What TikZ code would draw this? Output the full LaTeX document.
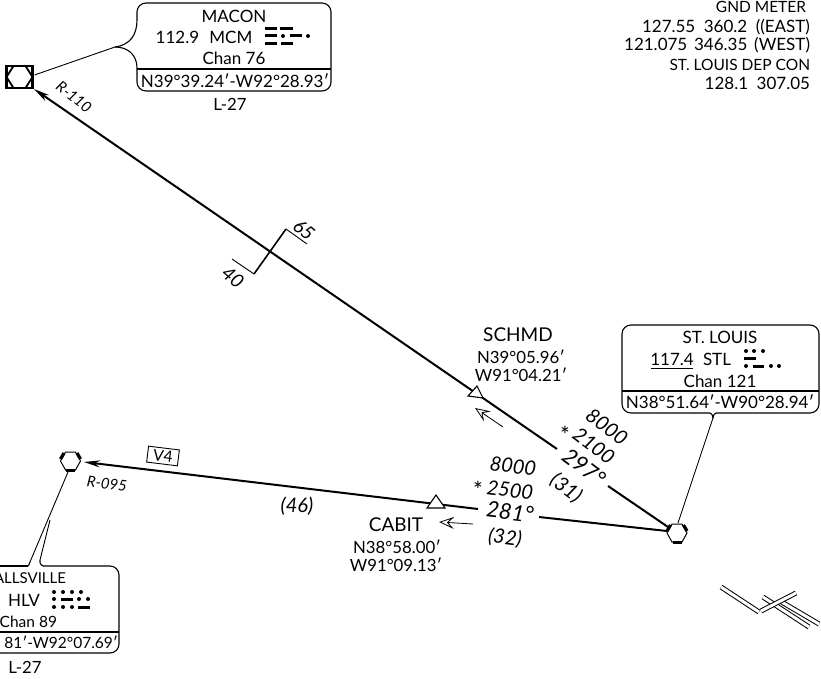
\documentclass[tikz,border=0pt]{standalone}
\usepackage{fontspec}
\setmainfont{Lato}
\usetikzlibrary{arrows.meta}
\tikzset{
  lbl/.style={inner sep=0pt,outer sep=0pt,text=black,font=\fontsize{17}{17}\selectfont},
  lblnarrow/.style={lbl,font=\fontsize{15.5}{16}\selectfont},
  lblclip/.style={lbl,font=\fontsize{15}{15}\selectfont},
  lblsm/.style={lbl,font=\fontsize{16.8}{17}\selectfont},
  lblbig/.style={lbl,font=\fontsize{19}{19}\selectfont},
  alt/.style={lbl,font=\fontsize{20}{20}\selectfont\itshape},
  crs/.style={lbl,font=\fontsize{22}{22}\selectfont\itshape},
  dist/.style={lbl,font=\fontsize{20}{20}\selectfont\itshape},
  rad/.style={lbl,font=\fontsize{15}{15}\selectfont\itshape},
  mea/.style={lbl,font=\fontsize{19}{19}\selectfont\itshape},
  star/.style={lbl,font=\fontsize{23}{23}\selectfont},
  airway/.style={line width=2pt,black},
  inbound/.style={airway,-{Stealth[length=16pt,width=7pt]}},
  thinline/.style={line width=0.9pt,black},
  boxline/.style={line width=1.1pt,black},
  cornerbox/.style={boxline,rounded corners=9pt},
  dirarrow/.style={line width=0.8pt,-{Stealth[open,length=15pt,width=12pt,inset=6pt]}},
  dah/.style={line width=3pt,black},
  dit/.style={fill=black,draw=none},
  runway/.style={line width=1pt,black,double=white,double distance=3pt},
  fixtri/.style={line width=1.1pt,draw=black,fill=white},
  vortac/.pic={
    \draw[line width=1pt,fill=white] (-10,0)--(-5,-9)--(5,-9)--(10,0)--(5,9)--(-5,9)--cycle;
    \draw[line width=3.2pt] (-4.5,9.5)--(4.5,9.5);
    \draw[line width=3.2pt] (-10,-2)--(-6.5,-8);
    \draw[line width=3.2pt] (10,-2)--(6.5,-8);
  },
  vordme/.pic={
    \draw[line width=2.2pt] (-13,-11) rectangle (13,11);
    \draw[line width=1.8pt] (-13,0)--(-6,-11)--(6,-11)--(13,0)--(6,11)--(-6,11)--cycle;
  },
}
\newcommand{\ditat}[2]{\fill[dit] (#1,#2) circle (2pt);}
\newcommand{\dahat}[3]{\draw[dah] (#1,#3)--(#2,#3);}
\begin{document}
\begin{tikzpicture}[x=1pt,y=-1pt]
\useasboundingbox (0,0) rectangle (821,679);
\begin{scope}
\clip (0,0) rectangle (821,679);

% fixes
\coordinate (mcm) at (19.5,77);
\coordinate (stl) at (677,533);
\coordinate (hlv) at (70.5,461);
\coordinate (schmd) at (476,394);
\coordinate (cabit) at (436,503);

% airways
\coordinate (mcmtip) at (34,89);
\coordinate (a1) at (557,449);
\coordinate (a2) at (608,486);
\coordinate (a3) at (668,527);
\draw[inbound] (a1)--(mcmtip);
\draw[airway] (a2)--(a3);
\coordinate (hlvtip) at (84,462);
\coordinate (b1) at (478,509);
\coordinate (b2) at (539,517);
\coordinate (b3) at (667,531);
\draw[inbound] (b1)--(hlvtip);
\draw[airway] (b2)--(b3);

% symbols
\pic at (mcm) {vordme};
\pic at (stl) {vortac};
\pic at (hlv) {vortac};
\draw[fixtri] (cabit)++(0,-8)--++(9,13)--++(-18,0)--cycle;
\draw[fixtri] (schmd)++(1,-8)--++(6,12)--++(-15,-2)--cycle;

% MEA change
\coordinate (mea1) at (286,229);
\coordinate (mea2) at (254,274);
\coordinate (mea1t) at (307,244);
\coordinate (mea2t) at (232,259);
\draw[line width=1.6pt] (mea1)--(mea2);
\draw[thinline] (mea1)--(mea1t);
\draw[thinline] (mea2)--(mea2t);
\node[mea,rotate=-40] (m65) at (304,230) {65};
\node[mea,rotate=-40] (m40) at (233,277) {40};
\node[rad,rotate=-38] (r110) at (74,97) {R-110};
\node[rad,rotate=-7] (r095) at (107,484) {R-095};

% direction arrows
\coordinate (d1a) at (503,427);
\coordinate (d1b) at (475,408);
\coordinate (d2a) at (473,524);
\coordinate (d2b) at (439,522);
\draw[dirarrow] (d1a)--(d1b);
\draw[dirarrow] (d2a)--(d2b);

% V4
\node[lblnarrow,draw,line width=0.9pt,rotate=-7,minimum width=31pt,minimum height=16pt,fill=white] (v4) at (163,456) {V4};
\node[dist] (d46) at (297,506) {(46)};

% SCHMD / CABIT
\node[lblbig] (n1) at (518,335) {SCHMD};
\node[lblsm] (n2) at (521,357) {N39°05.96′};
\node[lblsm] (n3) at (521,375) {W91°04.21′};
\node[lblbig] (n4) at (396,525) {CABIT};
\node[lblsm] (n5) at (397,547) {N38°58.00′};
\node[lblsm] (n6) at (396,565) {W91°09.13′};

% segment data
\node[alt,rotate=-37] (s1) at (607,427) {8000};
\node[star] (s2) at (565,435) {*};
\node[alt,rotate=-37] (s3) at (594,446) {2100};
\node[crs,rotate=-37] (s4) at (584,467) {297°};
\node[dist,rotate=-37] (s5) at (566,488) {(31)};
\node[alt,rotate=-7] (t1) at (513,466) {8000};
\node[star] (t2) at (478,490) {*};
\node[alt,rotate=-7] (t3) at (510,490) {2500};
\node[crs,rotate=-7] (t4) at (510,512) {281°};
\node[dist,rotate=-7] (t5) at (505,538) {(32)};

% MACON box
\coordinate (mj) at (115,47);
\coordinate (mu) at (137,20);
\coordinate (ml) at (137,68);
\draw[thinline] (mcm)++(15,-2)--(mj);
\draw[boxline] (mj) .. controls (130,45) and (137,35) .. (mu);
\draw[boxline] (mj) .. controls (128,47) and (137,55) .. (ml);
\draw[cornerbox] (mu)--(137,3)--(331,3)--(331,91)--(137,91)--(ml);
\draw[boxline] (137,69)--(331,69);
\node[lbl] (b1a) at (234,16) {MACON};
\node[lbl] (b1b) at (204,37) {112.9\hspace{0.6em}MCM};
\node[lbl] (b1c) at (234,58) {Chan 76};
\node[lbl] (b1d) at (235,81) {N39°39.24′-W92°28.93′};
\node[lblsm] (b1e) at (230,104) {L-27};
\dahat{265}{277}{29}\dahat{280}{293}{29}
\dahat{265}{277}{36}\ditat{283}{36}\dahat{290}{302}{36}\ditat{308}{36}
\dahat{265}{277}{44}\dahat{281}{293}{44}

% ST LOUIS box
\coordinate (sj) at (713,418);
\coordinate (sl) at (710,413);
\coordinate (sr) at (716,413);
\draw[cornerbox] (sl)--(622,413)--(622,325)--(819,325)--(819,413)--(sr);
\draw[boxline] (622,391)--(819,391);
\draw[boxline] (sl) .. controls (712,414) .. (sj);
\draw[boxline] (sr) .. controls (714,414) .. (sj);
\draw[thinline] (sj)--(678,523);
\node[lbl] (b2a) at (720,337) {ST. LOUIS};
\node[lbl] (b2b) at (672,359) {117.4};
\node[lbl] (b2c) at (717,359) {STL};
\node[lbl] (b2d) at (720,381) {Chan 121};
\node[lbl] (b2e) at (720,402) {N38°51.64′-W90°28.94′};
\draw[thinline] (651,368)--(693,368);
\ditat{746}{351}\ditat{754}{351}\ditat{763}{351}
\dahat{744}{756}{358}
\ditat{746}{366}\dahat{753}{764}{366}\ditat{771}{366}\ditat{779}{366}

% HALLSVILLE box
\coordinate (hl) at (28,566);
\coordinate (hr) at (43,566);
\coordinate (hm) at (50,520);
\draw[cornerbox] (hr)--(119,566)--(119,653)--(-20,653);
\draw[boxline] (hl)--(0,566);
\draw[boxline] (0,632)--(119,632);
\draw[thinline] (68,472)--(30,562);
\draw[thinline] (hm)--(40,560);
\draw[boxline] (30,562) .. controls (29,565) .. (hl);
\draw[boxline] (40,560) .. controls (40,564) .. (hr);
\node[lblclip,anchor=east] (b3a) at (66,578) {ALLSVILLE};
\node[lbl] (b3b) at (24,600) {HLV};
\node[lblnarrow,anchor=east] (b3c) at (57,622) {Chan 89};
\node[lblnarrow,anchor=east] (b3d) at (118,642) {81′-W92°07.69′};
\node[lblsm] (b3e) at (25,667) {L-27};
\ditat{54}{592}\ditat{63}{592}\ditat{72}{592}\ditat{81}{592}
\ditat{54}{599}\dahat{61}{73}{599}\ditat{79}{599}\ditat{88}{599}
\ditat{54}{607}\ditat{63}{607}\ditat{72}{607}\dahat{78}{90}{607}

% comms
\node[lblnarrow,anchor=east] (c1) at (806,7) {GND METER};
\node[lbl,anchor=east] (c2) at (810,27) {127.55\hspace{0.5em}360.2\hspace{0.5em}((EAST)};
\node[lbl,anchor=east] (c3) at (810,45) {121.075\hspace{0.4em}346.35\hspace{0.4em}(WEST)};
\node[lblnarrow,anchor=east] (c4) at (810,65) {ST. LOUIS DEP CON};
\node[lbl,anchor=east] (c5) at (810,83) {128.1\hspace{0.5em}307.05};

% runways
\coordinate (r1a) at (721,587);
\coordinate (r1b) at (759,612);
\coordinate (r2a) at (761,611);
\coordinate (r2b) at (796,593);
\coordinate (r3a) at (763,597);
\coordinate (r3b) at (809,627);
\coordinate (r4a) at (780,601);
\coordinate (r4b) at (819,624);
\draw[runway] (r1a)--(r1b);
\draw[runway] (r3a)--(r3b);
\draw[runway] (r4a)--(r4b);
\draw[runway] (r2a)--(r2b);
\end{scope}
\end{tikzpicture}
\end{document}
